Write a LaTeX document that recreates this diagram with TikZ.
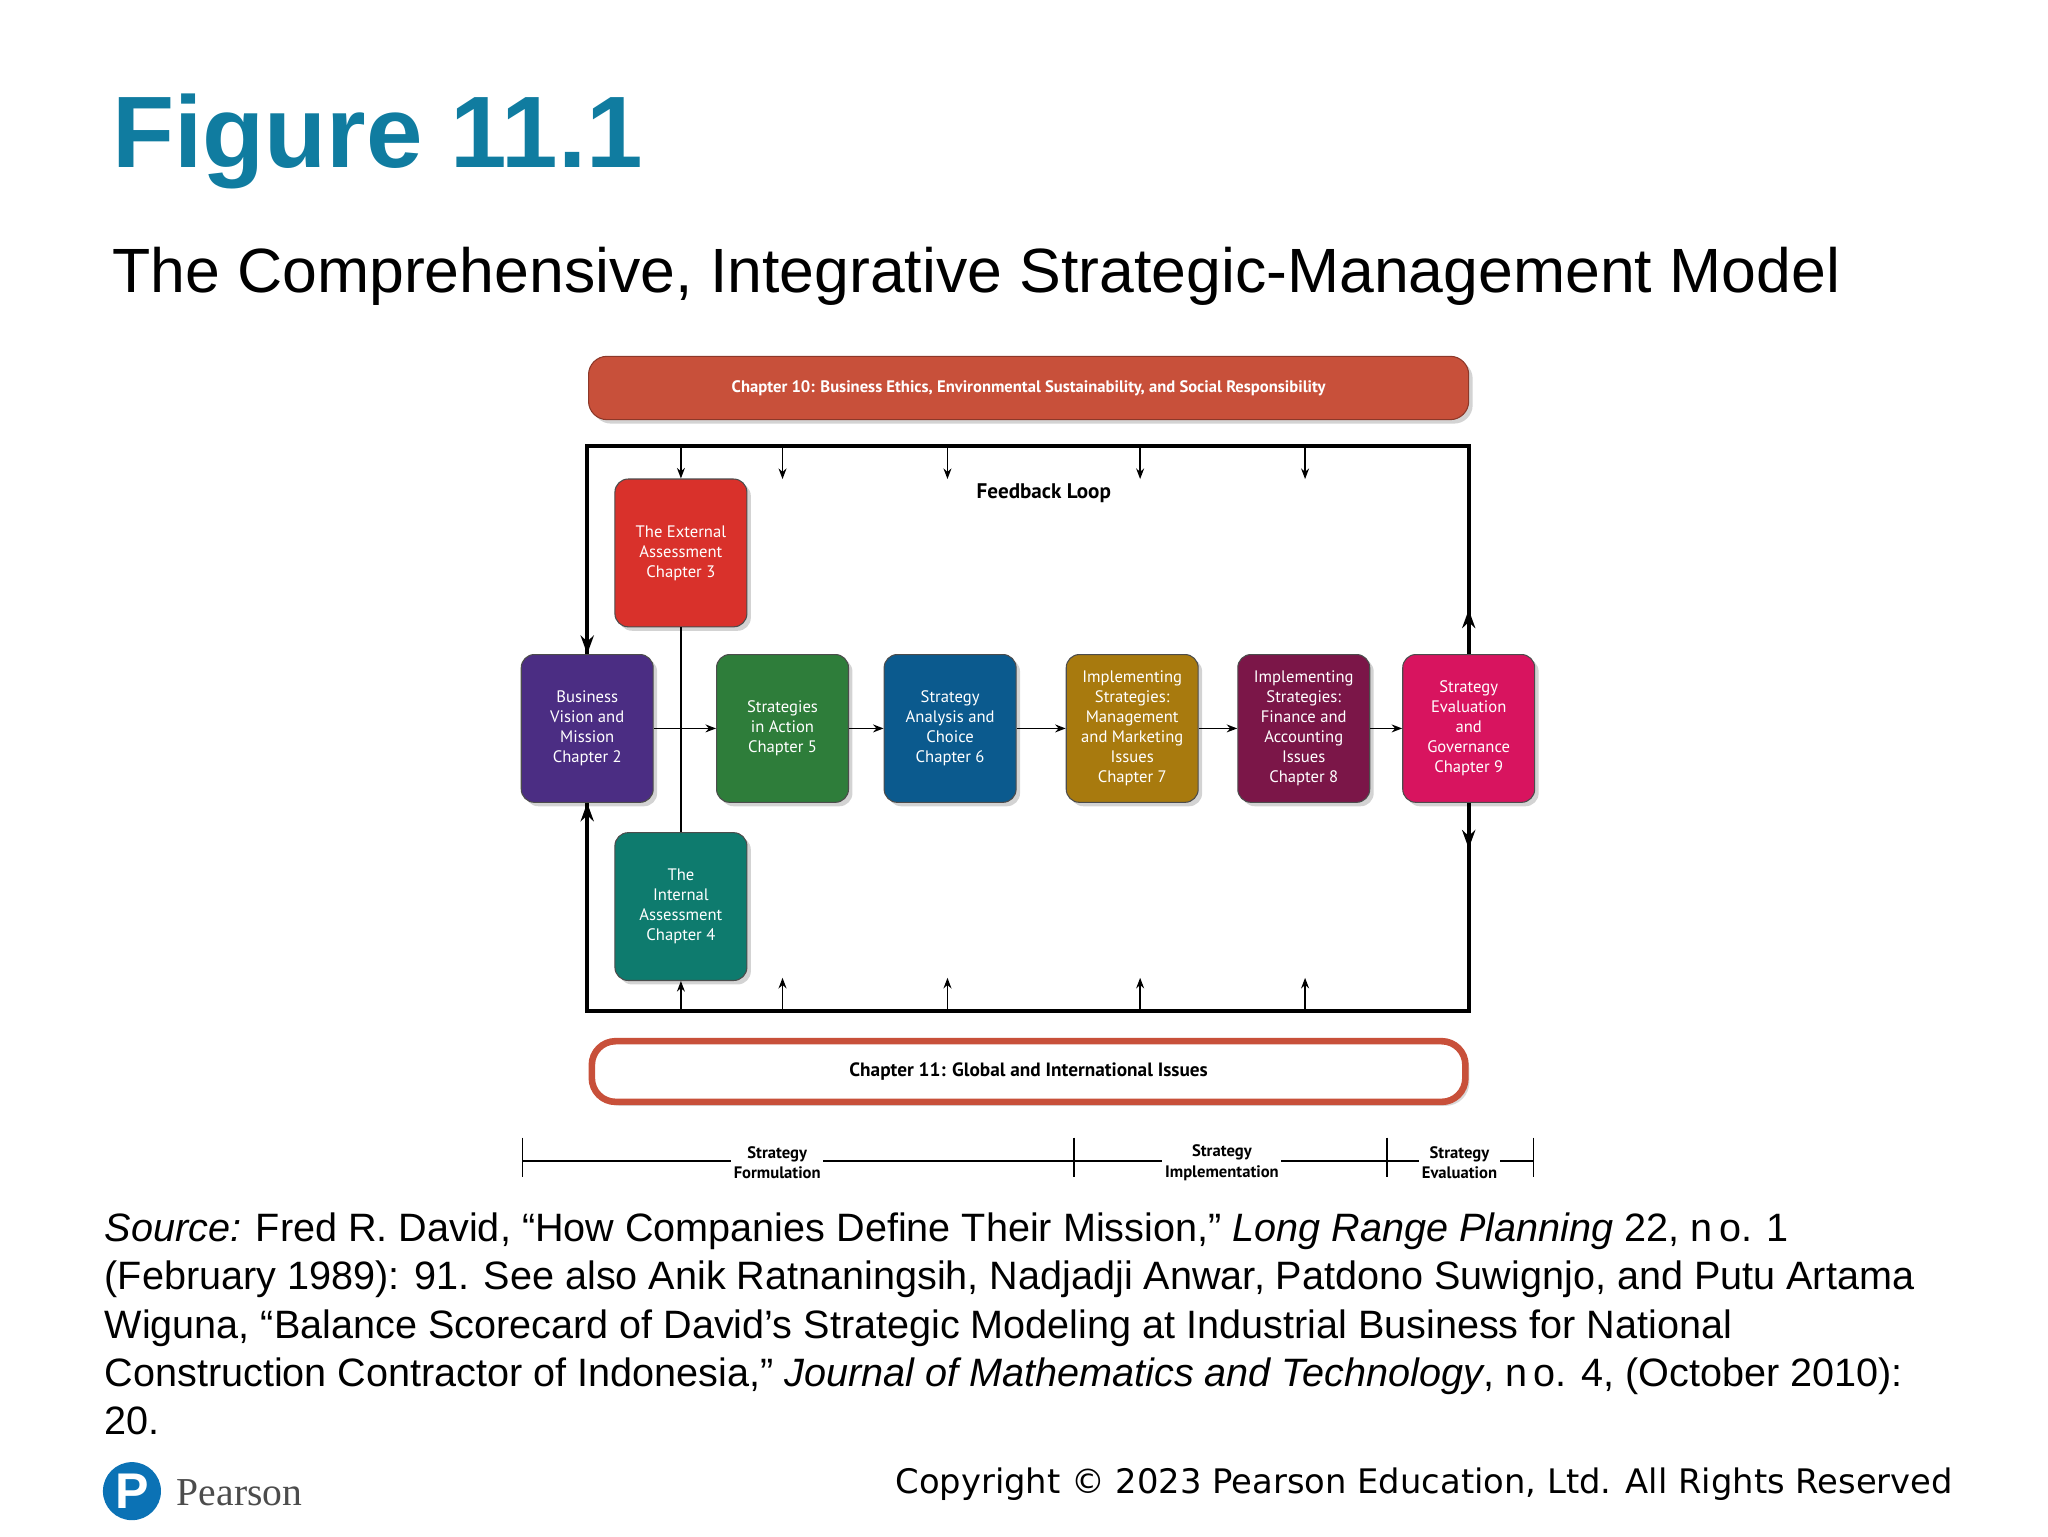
\documentclass[tikz,border=0pt]{standalone}
\usepackage{fontspec}
\setmainfont{Liberation Sans}
\newfontfamily\diag{PT Sans}
\newfontfamily\copyf{DejaVu Sans}
\newfontfamily\pserif{Liberation Serif}
\usetikzlibrary{shadows,arrows.meta}
\definecolor{teal1}{RGB}{16,124,160}
\definecolor{barred}{RGB}{200,80,58}
\definecolor{cext}{RGB}{217,49,43}
\definecolor{cbus}{RGB}{75,45,131}
\definecolor{csia}{RGB}{46,125,58}
\definecolor{csac}{RGB}{11,90,142}
\definecolor{cimm}{RGB}{168,122,14}
\definecolor{cimf}{RGB}{123,22,72}
\definecolor{ceva}{RGB}{216,20,95}
\definecolor{cint}{RGB}{14,123,110}
\definecolor{pblue}{RGB}{11,114,181}
\begin{document}
\begin{tikzpicture}[x=0.5pt,y=-0.5pt,
  box/.style={draw=black!70,line width=0.4pt,rounded corners=5pt,minimum width=50pt,minimum height=56pt,inner sep=1pt,
    align=center,text=white,font=\diag\fontsize{6.3}{7.6}\selectfont,drop shadow={shadow xshift=1.5pt,shadow yshift=-1.5pt,opacity=0.35}},
  fl/.style={line width=1.5pt},
  thin/.style={line width=0.6pt},
  sm/.style={-{Stealth[length=4pt,width=3pt]},line width=0.6pt},
  big/.style={-{Stealth[length=7pt,width=5pt]},line width=1.5pt},
  tl/.style={font=\diag\bfseries\fontsize{6.3}{7.8}\selectfont,align=center,fill=white,inner sep=1pt}]
\useasboundingbox (0,0) rectangle (1552,1164);
\node[anchor=base west,text=teal1,font=\bfseries\fontsize{38.5}{38.5}\selectfont] (title) at (78,127) {Figure 11.1};
\node[anchor=base west,font=\fontsize{23.7}{23.7}\selectfont] (sub) at (78,222) {The Comprehensive, Integrative Strategic-Management Model};
% top bar
\node[fill=barred,draw=barred!70!black,rounded corners=7pt,minimum width=333.5pt,minimum height=24pt,text=white,
  font=\diag\bfseries\fontsize{6.3}{7}\selectfont,drop shadow={shadow xshift=1.5pt,shadow yshift=-1.5pt,opacity=0.35}] (ch10) at (779.5,294) {Chapter 10: Business Ethics, Environmental Sustainability, and Social Responsibility};
% feedback frame corners
\coordinate (tl) at (445,338); \coordinate (tr) at (1113,338);
\coordinate (bl) at (445,766); \coordinate (br) at (1113,766);
% boxes
\node[box,fill=cext] (ext) at (516,419) {The External\\Assessment\\Chapter 3};
\node[box,fill=cbus] (bus) at (445,552) {Business\\Vision and\\Mission\\Chapter 2};
\node[box,fill=csia] (sia) at (593,552) {Strategies\\in Action\\Chapter 5};
\node[box,fill=csac] (sac) at (720,552) {Strategy\\Analysis and\\Choice\\Chapter 6};
\node[box,fill=cimm] (imm) at (858,552) {Implementing\\Strategies:\\Management\\and Marketing\\Issues\\Chapter 7};
\node[box,fill=cimf] (imf) at (988,552) {Implementing\\Strategies:\\Finance and\\Accounting\\Issues\\Chapter 8};
\node[box,fill=ceva] (eva) at (1113,552) {Strategy\\Evaluation\\and\\Governance\\Chapter 9};
\node[box,fill=cint] (int) at (516,687) {The\\Internal\\Assessment\\Chapter 4};
\node[font=\diag\bfseries\fontsize{8}{8}\selectfont] (fb) at (791,374) {Feedback Loop};
% frame
\draw[fl] (bus.north) |- (tr) -- (eva.north);
\draw[fl] (bus.south) |- (br) -- (eva.south);
\draw[big] (tl) -- (bus.north);
\draw[big] (bl) -- (bus.south);
\coordinate (eu) at (1113,462); \coordinate (ed) at (1113,643);
\draw[big] (eva.north) -- (eu);
\draw[big] (eva.south) -- (ed);
% top arrows
\foreach \x/\n in {593/a,718/b,864/c,989/d}{
  \coordinate (t\n) at (\x,338); \coordinate (te\n) at (\x,363);
  \draw[sm] (t\n) -- (te\n);
  \coordinate (b\n) at (\x,766); \coordinate (be\n) at (\x,741);
  \draw[sm] (b\n) -- (be\n);}
\coordinate (t0) at (516,338); \coordinate (b0) at (516,766);
\draw[sm] (t0) -- (ext.north);
\draw[sm] (b0) -- (int.south);
% vertical link and row arrows
\draw[thin] (ext.south) -- (int.north);
\draw[sm] (bus.east) -- (sia.west);
\draw[sm] (sia.east) -- (sac.west);
\draw[sm] (sac.east) -- (imm.west);
\draw[sm] (imm.east) -- (imf.west);
\draw[sm] (imf.east) -- (eva.west);
% bottom bar
\node[fill=white,draw=barred,line width=2.5pt,rounded corners=9pt,minimum width=331pt,minimum height=23pt,
  font=\diag\bfseries\fontsize{7.3}{8}\selectfont,drop shadow={shadow xshift=1.5pt,shadow yshift=-1.5pt,opacity=0.3}] (ch11) at (779.5,812) {Chapter 11: Global and International Issues};
% timeline
\coordinate (k1) at (396,880); \coordinate (k2) at (814,880); \coordinate (k3) at (1051,880); \coordinate (k4) at (1162,880);
\draw[thin] (k1) -- (k4);
\foreach \k in {k1,k2,k3,k4}{\draw[thin] ([yshift=9pt]\k) -- ([yshift=-6pt]\k);}
\node[tl] (f1) at (589,881) {Strategy\\Formulation};
\node[tl] (f2) at (926,881) {Strategy\\Implementation};
\node[tl] (f3) at (1106,881) {Strategy\\Evaluation};
% source
\node[anchor=north west,align=left,inner sep=0pt,font=\fontsize{15}{18.2}\selectfont] (src) at (79,919) {\textit{Source:} Fred R. David, “How Companies Define Their Mission,” \textit{Long Range Planning} 22, n\,o. 1\\
(February 1989): 91. See also Anik Ratnaningsih, Nadjadji Anwar, Patdono Suwignjo, and Putu Artama\\
Wiguna, “Balance Scorecard of David’s Strategic Modeling at Industrial Business for National\\
Construction Contractor of Indonesia,” \textit{Journal of Mathematics and Technology}, n\,o. 4, (October 2010):\\
20.};
% logo
\node[circle,fill=pblue,minimum size=22pt,inner sep=0pt,text=white,font=\bfseries\fontsize{19}{19}\selectfont] (logo) at (100,1130) {P};
\node[anchor=base west,text=black!70,font=\pserif\fontsize{15}{15}\selectfont] (pear) at (127,1141) {Pearson};
\node[anchor=base east,font=\copyf\fontsize{12.8}{13}\selectfont] (copy) at (1487,1132) {Copyright © 2023 Pearson Education, Ltd. All Rights Reserved};
\end{tikzpicture}
\end{document}
